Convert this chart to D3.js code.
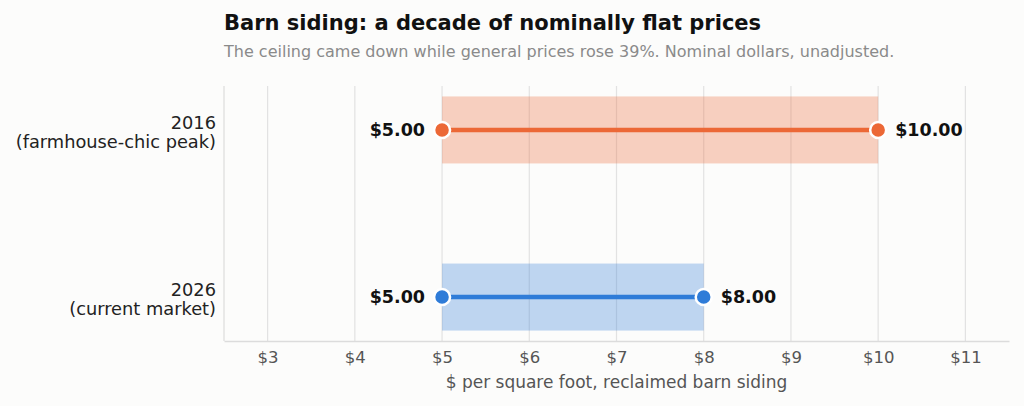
<!DOCTYPE html>
<html>
<head>
<meta charset="utf-8">
<script src="https://cdn.jsdelivr.net/npm/d3@7"></script>
<style>
  html, body { margin: 0; padding: 0; background: #fcfcfb; }
  svg { display: block; font-family: "DejaVu Sans", sans-serif; }
</style>
</head>
<body>
<div id="chart"></div>
<script>
// barn siding price ranges, $/sq ft
const years = ["2016", "2026"];
const notes = ["(farmhouse-chic peak)", "(current market)"];
const lows = [5, 5];
const highs = [10, 8];
const colors = ["#ec6836", "#2f7cd8"];
const ticks = [3, 4, 5, 6, 7, 8, 9, 10, 11];

const W = 1024, H = 406;
const m = { top: 86, right: 15, bottom: 65, left: 224 };

const svg = d3.select("#chart").append("svg")
  .attr("width", W).attr("height", H);

svg.append("rect").attr("width", W).attr("height", H).attr("fill", "#fcfcfb");

const x = d3.scaleLinear().domain([2.5, 11.5]).range([m.left, W - m.right]);
const y = d3.scalePoint().domain(years).range([m.top, H - m.bottom]).padding(0.263);
const bandH = 67;

/* 標題 */
svg.append("text").attr("x", m.left).attr("y", 30)
  .attr("font-size", 21).attr("font-weight", "bold").attr("fill", "#111")
  .text("Barn siding: a decade of nominally flat prices");
svg.append("text").attr("x", m.left).attr("y", 57)
  .attr("font-size", 16).attr("fill", "#8a8a8a")
  .text("The ceiling came down while general prices rose 39%. Nominal dollars, unadjusted.");

/* grid */
svg.append("g").selectAll("line").data(ticks).join("line")
  .attr("x1", d => x(d)).attr("x2", d => x(d))
  .attr("y1", m.top).attr("y2", H - m.bottom)
  .attr("stroke", "#e2e2e2").attr("stroke-width", 1.2);

/* spines */
svg.append("line").attr("x1", m.left).attr("x2", m.left)
  .attr("y1", m.top).attr("y2", H - m.bottom)
  .attr("stroke", "#dcdcdc").attr("stroke-width", 1.2);

const xAxis = svg.append("g")
  .attr("transform", `translate(0,${H - m.bottom})`)
  .call(d3.axisBottom(x).tickValues(ticks).tickFormat(d => "$" + d).tickSize(0).tickPadding(10));
xAxis.select(".domain").attr("stroke", "#dcdcdc").attr("stroke-width", 1.5);
xAxis.selectAll("text").attr("font-size", 16.5).attr("fill", "#555")
  .attr("font-family", "DejaVu Sans, sans-serif");

svg.append("text").attr("x", x(7)).attr("y", 388)
  .attr("text-anchor", "middle").attr("font-size", 17).attr("fill", "#555")
  .text("$ per square foot, reclaimed barn siding");

/* y labels */
const yl = svg.append("g").selectAll("text").data(years).join("text")
  .attr("x", m.left - 8).attr("text-anchor", "end")
  .attr("font-size", 17.8).attr("fill", "#222");
yl.append("tspan").attr("x", m.left - 8).attr("y", d => y(d) - 1).text(d => d);
yl.append("tspan").attr("x", m.left - 8).attr("y", (d, i) => y(d) + 18).text((d, i) => notes[i]);

/* ranges */
const rows = svg.append("g").selectAll("g").data(years).join("g");

rows.append("rect")
  .attr("x", (d, i) => x(lows[i])).attr("width", (d, i) => x(highs[i]) - x(lows[i]))
  .attr("y", d => y(d) - bandH / 2).attr("height", bandH)
  .attr("fill", (d, i) => colors[i]).attr("fill-opacity", 0.3);

rows.append("line")
  .attr("x1", (d, i) => x(lows[i])).attr("x2", (d, i) => x(highs[i]))
  .attr("y1", d => y(d)).attr("y2", d => y(d))
  .attr("stroke", (d, i) => colors[i]).attr("stroke-width", 4.5);

rows.selectAll("circle").data((d, i) => [[d, i, lows[i]], [d, i, highs[i]]]).join("circle")
  .attr("cx", p => x(p[2])).attr("cy", p => y(p[0])).attr("r", 8)
  .attr("fill", p => colors[p[1]]).attr("stroke", "#fff").attr("stroke-width", 2.5);

rows.append("text")
  .attr("x", (d, i) => x(lows[i]) - 17).attr("y", d => y(d) + 6)
  .attr("text-anchor", "end").attr("font-size", 17.5).attr("font-weight", "bold").attr("fill", "#111")
  .text((d, i) => "$" + lows[i].toFixed(2));
rows.append("text")
  .attr("x", (d, i) => x(highs[i]) + 17).attr("y", d => y(d) + 6)
  .attr("font-size", 17.5).attr("font-weight", "bold").attr("fill", "#111")
  .text((d, i) => "$" + highs[i].toFixed(2));
</script>
</body>
</html>
